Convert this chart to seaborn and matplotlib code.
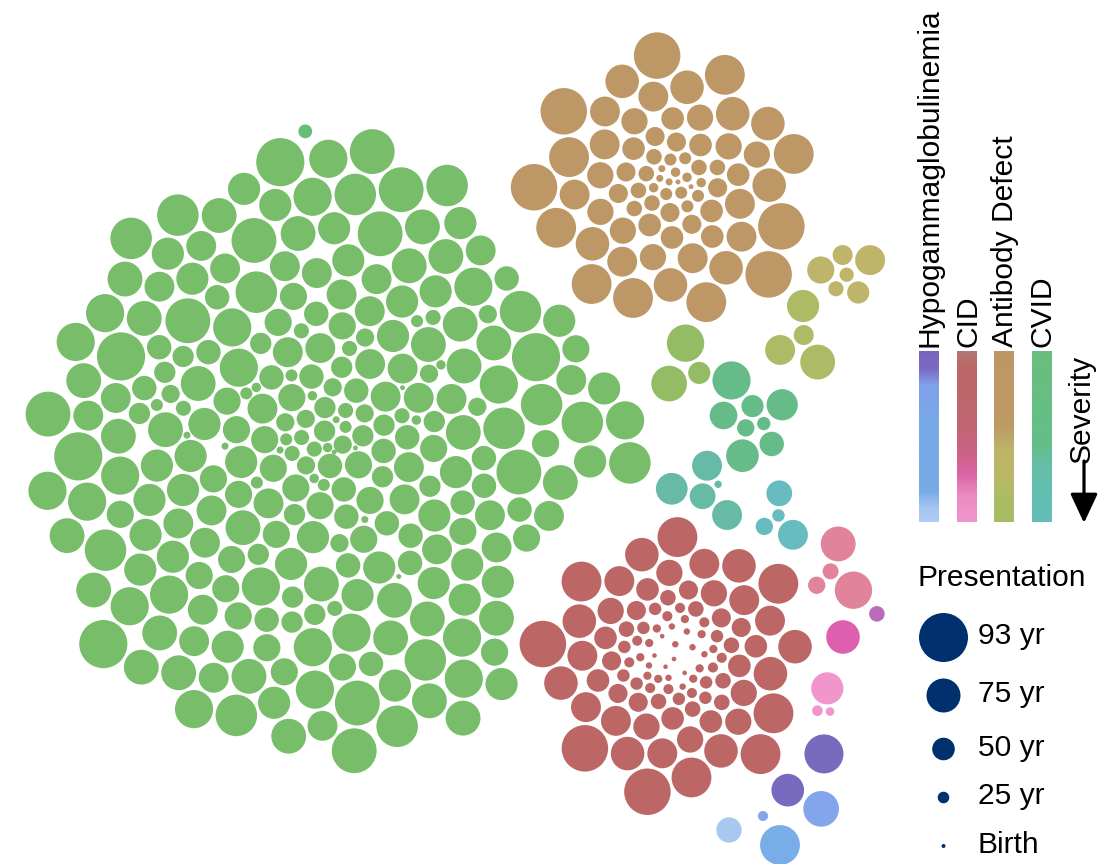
import numpy as np
import pandas as pd
import matplotlib
matplotlib.use("Agg")
import matplotlib.pyplot as plt
import seaborn as sns
from matplotlib.colors import LinearSegmentedColormap

# ---------------------------------------------------------------------------
# Size scale: age at presentation (years) -> bubble radius (px)
LEGEND_AGES = [0, 25, 50, 75, 93]
LEGEND_LABELS = ["Birth", "25 yr", "50 yr", "75 yr", "93 yr"]
RADIUS_PX = [2.0, 5.8, 11.3, 17.0, 24.5]

# Large groups: ages at presentation as (age, number of patients)
CVID_MAIN_AGES = [3, 10, 18, 26, 33, 40, 47, 54, 60, 66, 71, 76, 80, 84, 88, 92]
CVID_MAIN_COUNTS = [4, 5, 6, 8, 10, 12, 17, 24, 30, 34, 36, 32, 21, 14, 9, 5]
AB_MAIN_AGES = [3, 10, 18, 26, 34, 42, 50, 58, 66, 74, 82, 90]
AB_MAIN_COUNTS = [2, 3, 4, 6, 7, 7, 8, 8, 8, 8, 7, 5]
CID_MAIN_AGES = [2, 8, 14, 20, 27, 34, 42, 50, 58, 66, 74, 82, 90]
CID_MAIN_COUNTS = [5, 8, 10, 10, 9, 8, 7, 7, 7, 8, 8, 6, 3]

# Small groups: individual ages at presentation
CVID_TOP_AGES = [30]
AB_MID_AGES = [60, 33, 44, 49, 31, 66]
AB_LOW_AGES = [66, 76, 44, 71]
AB_LOWEST_AGES = [79, 49, 77]
CVID_MID_AGES = [80, 69, 38, 29, 61, 49, 72, 54]
CVID_LOW_AGES = [66, 70, 57, 11, 66]
CVID_LOWEST_AGES = [57, 27, 66, 38]
CID_PINK_AGES = [76, 79, 35, 38]
CID_MAGENTA_AGES = [74]
CID_VIOLET_AGES = [34]
CID_LIGHT_AGES = [71, 22, 15]
HYPO_PURPLE_AGES = [81, 72]
HYPO_BLUE_AGES = [77, 20]
HYPO_SKY_AGES = [82]
HYPO_PALE_AGES = [56]

# Group styling and layout (seeded in this order):
# name, ages, colour, anchor (px), order mix, seed gap, min seed radius, turn (deg), spread, pull,
# reserves its disc, keeps clear of reserved discs
GROUPS = [
    ("cid_main", np.repeat(CID_MAIN_AGES, CID_MAIN_COUNTS), "#BC6666", (674, 659), 0.12, 3.0, 8.5, 0, 1.0, 0.0015, True, False),
    ("ab_main", np.repeat(AB_MAIN_AGES, AB_MAIN_COUNTS), "#BD9866", (670, 184), 0.15, 3.0, 8.5, 0, 1.0, 0.0015, True, False),
    ("cvid_main", np.repeat(CVID_MAIN_AGES, CVID_MAIN_COUNTS), "#77BD6A", (340, 452), 1.0, 3.0, 8.0, 0, 1.0, 0.0015, False, True),
    ("cvid_top", CVID_TOP_AGES, "#63BE78", (316, 138), 0.0, 3.0, 0.0, 0, 1.0, 0.0, False, False),
    ("ab_mid", AB_MID_AGES, "#BEB46A", (845, 275), 0.0, 9.0, 0.0, 0, 1.0, 0.003, False, False),
    ("ab_low", AB_LOW_AGES, "#ADBB66", (798, 335), 0.0, 9.0, 0.0, 0, 1.0, 0.003, False, False),
    ("ab_lowest", AB_LOWEST_AGES, "#94BC65", (688, 368), 0.0, 12.0, 0.0, 0, 1.0, 0.003, False, False),
    ("cvid_mid", CVID_MID_AGES, "#65BC88", (752, 420), 0.0, 8.0, 0.0, 0, 1.0, 0.003, False, False),
    ("cvid_low", CVID_LOW_AGES, "#67BBA6", (705, 490), 0.0, 8.0, 0.0, 0, 1.0, 0.003, False, False),
    ("cvid_lowest", CVID_LOWEST_AGES, "#67BCBF", (778, 515), 0.0, 8.0, 0.0, 0, 1.0, 0.003, False, False),
    ("cid_pink", CID_PINK_AGES, "#E0839B", (836, 568), 0.0, 6.0, 0.0, 0, 1.0, 0.003, False, False),
    ("cid_magenta", CID_MAGENTA_AGES, "#DD5FAE", (843, 637), 0.0, 3.0, 0.0, 0, 1.0, 0.003, False, False),
    ("cid_violet", CID_VIOLET_AGES, "#BE6ABA", (876, 613), 0.0, 3.0, 0.0, 0, 1.0, 0.003, False, False),
    ("cid_light", CID_LIGHT_AGES, "#F096CC", (826, 703), 0.0, 6.0, 0.0, 0, 1.0, 0.003, False, False),
    ("hypo_purple", HYPO_PURPLE_AGES, "#786ABF", (779, 782), 0.0, 3.0, 0.0, -169.5, 2.07, 0.0, False, False),
    ("hypo_blue", HYPO_BLUE_AGES, "#82A5EC", (763, 816), 0.0, 3.0, 0.0, -144.5, 3.5, 0.0, False, False),
    ("hypo_sky", HYPO_SKY_AGES, "#79ADE7", (780, 845), 0.0, 3.0, 0.0, 0, 1.0, 0.0, False, False),
    ("hypo_pale", HYPO_PALE_AGES, "#A9C8F0", (729, 830), 0.0, 3.0, 0.0, 0, 1.0, 0.0, False, False),
]

GOLDEN = np.pi * (3.0 - np.sqrt(5.0))


def radius_of(age):
    return np.interp(age, LEGEND_AGES, RADIUS_PX)


def spiral_seed(radii, origin, gap, mix, r_min, turn_deg, spread, avoid, density=0.82):
    """Sunflower seed positions (small bubbles near the middle), skipping reserved discs."""
    n = len(radii)
    rank = np.argsort(np.argsort(radii, kind="stable"), kind="stable")
    key = rank / max(n - 1, 1) + mix * ((rank * 0.6180339887) % 1.0)
    order = np.argsort(key, kind="stable")
    pos = np.empty((n, 2))
    cum, k = 0.0, 0
    for idx in order:
        cell = np.pi * (max(radii[idx], r_min) + gap / 2.0) ** 2 / density
        while True:
            rho = 0.0 if k == 0 else spread * np.sqrt((cum + cell / 2.0) / np.pi)
            th = k * GOLDEN + np.deg2rad(turn_deg)
            p = np.array([origin[0] + rho * np.cos(th), origin[1] + rho * np.sin(th)])
            cum += cell
            k += 1
            if all(np.hypot(*(p - c)) > R + radii[idx] for c, R in avoid):
                break
        pos[idx] = p
    return pos


def relax(pos, rad, anchor, pull, gap=3.0, iters=220, settle=160):
    """Collision relaxation with a fading pull of each bubble to its group anchor."""
    min_d = rad[:, None] + rad[None, :] + gap
    np.fill_diagonal(min_d, 0.0)
    m = rad ** 2
    share = m[None, :] / (m[:, None] + m[None, :])
    for k in range(iters + settle):
        if k < iters:
            pos += (anchor - pos) * (pull * (1.0 - k / iters))[:, None]
        d = pos[:, None, :] - pos[None, :, :]
        dist = np.sqrt((d ** 2).sum(-1))
        np.fill_diagonal(dist, 1.0)
        ov = np.clip(min_d - dist, 0.0, None)
        np.fill_diagonal(ov, 0.0)
        f = ov * share / dist
        pos += 0.7 * (d * f[..., None]).sum(1)
    return pos


frames, reserved = [], []
for (name, ages, colour, anchor, mix, seed_gap, r_min, turn, spread, pull,
     reserve, keep_clear) in GROUPS:
    ages = np.asarray(ages, dtype=float)
    r = radius_of(ages)
    p = spiral_seed(r, anchor, seed_gap, mix, r_min, turn, spread,
                    reserved if keep_clear else [])
    if reserve:
        reach = np.max(np.hypot(p[:, 0] - anchor[0], p[:, 1] - anchor[1]) + r) + seed_gap
        reserved.append((np.asarray(anchor, float), reach))
    frames.append(pd.DataFrame({
        "group": name, "age": ages, "r": r,
        "x": p[:, 0], "y": p[:, 1],
        "ax": anchor[0], "ay": anchor[1], "pull": pull,
    }))
bubbles = pd.concat(frames, ignore_index=True)

xy = relax(bubbles[["x", "y"]].to_numpy().copy(), bubbles["r"].to_numpy(),
           bubbles[["ax", "ay"]].to_numpy(), bubbles["pull"].to_numpy())
bubbles["x"], bubbles["y"] = xy[:, 0], xy[:, 1]

DPI = 100
PT_PER_PX = 72.0 / DPI


def marker_area(r_px):
    return (2.0 * r_px * PT_PER_PX) ** 2


bubbles["area"] = marker_area(bubbles["r"])
legend = pd.DataFrame({"age": LEGEND_AGES, "label": LEGEND_LABELS,
                       "x": 943.5, "y": [846, 797.5, 749, 695.5, 637.5]})
legend["area"] = marker_area(radius_of(np.asarray(LEGEND_AGES, float)))
size_range = (float(min(bubbles["area"].min(), legend["area"].min())),
              float(max(bubbles["area"].max(), legend["area"].max())))
palette = {g[0]: g[2] for g in GROUPS}

sns.set_style("white")
plt.rcParams["font.family"] = ["Liberation Sans", "DejaVu Sans"]
plt.rcParams["text.color"] = "black"
FS = 21.6

fig = plt.figure(figsize=(10.99, 8.64), dpi=DPI)
ax = fig.add_axes([0, 0, 1, 1])

sns.scatterplot(data=bubbles, x="x", y="y", hue="group", palette=palette,
                size="area", sizes=size_range, size_norm=size_range,
                linewidth=0, legend=False, ax=ax)

# Presentation-age key
sns.scatterplot(data=legend, x="x", y="y", color="#00306E",
                size="area", sizes=size_range, size_norm=size_range,
                linewidth=0, legend=False, ax=ax)
ax.text(918, 578, "Presentation", fontsize=FS, ha="left", va="center")
for _, row in legend.iterrows():
    ax.text(978, row["y"] - 1, row["label"], fontsize=FS, ha="left", va="center")

# Severity colour bars
BARS = [
    ("Hypogammaglobulinemia", 929, [(0.0, "#7864BE"), (0.1, "#7A6AC2"), (0.2, "#80A0EB"),
                                    (0.4, "#78AAE8"), (0.82, "#78AAE6"), (0.92, "#A5C6F0"),
                                    (1.0, "#AFCDF2")]),
    ("CID", 967, [(0.0, "#AF7876"), (0.1, "#BC6666"), (0.45, "#C06673"), (0.62, "#CD628C"),
                  (0.72, "#DC64A5"), (0.85, "#EB8CC3"), (1.0, "#F096CD")]),
    ("Antibody Defect", 1004, [(0.0, "#BE9664"), (0.45, "#BE9B64"), (0.57, "#BEB469"),
                               (0.75, "#B9B967"), (0.87, "#AABC64"), (1.0, "#A5BC64")]),
    ("CVID", 1042, [(0.0, "#69BE7D"), (0.55, "#64BE87"), (0.68, "#64BEAA"), (1.0, "#64BEB9")]),
]
BAR_TOP, BAR_BOTTOM, BAR_W = 351, 522, 20
grad = np.linspace(0, 1, 256)[:, None]
for label, xc, stops in BARS:
    cmap = LinearSegmentedColormap.from_list(label, stops)
    ax.imshow(grad, cmap=cmap, aspect="auto", origin="upper",
              extent=(xc - BAR_W / 2, xc + BAR_W / 2, BAR_BOTTOM, BAR_TOP), zorder=2)
    ax.text(xc + 1, 347, label, rotation=90, fontsize=FS, ha="center", va="bottom")

ax.text(1082, 463, "Severity", rotation=90, fontsize=FS, ha="center", va="bottom")
ax.annotate("", xy=(1084, 523), xytext=(1084, 461),
            arrowprops=dict(arrowstyle="-|>,head_length=0.9,head_width=0.42",
                            mutation_scale=20, lw=2.3, color="black",
                            shrinkA=0, shrinkB=0))

ax.set_xlim(0, 1099)
ax.set_ylim(864, 0)
ax.axis("off")
fig.savefig("out.png", dpi=DPI, facecolor="white")
